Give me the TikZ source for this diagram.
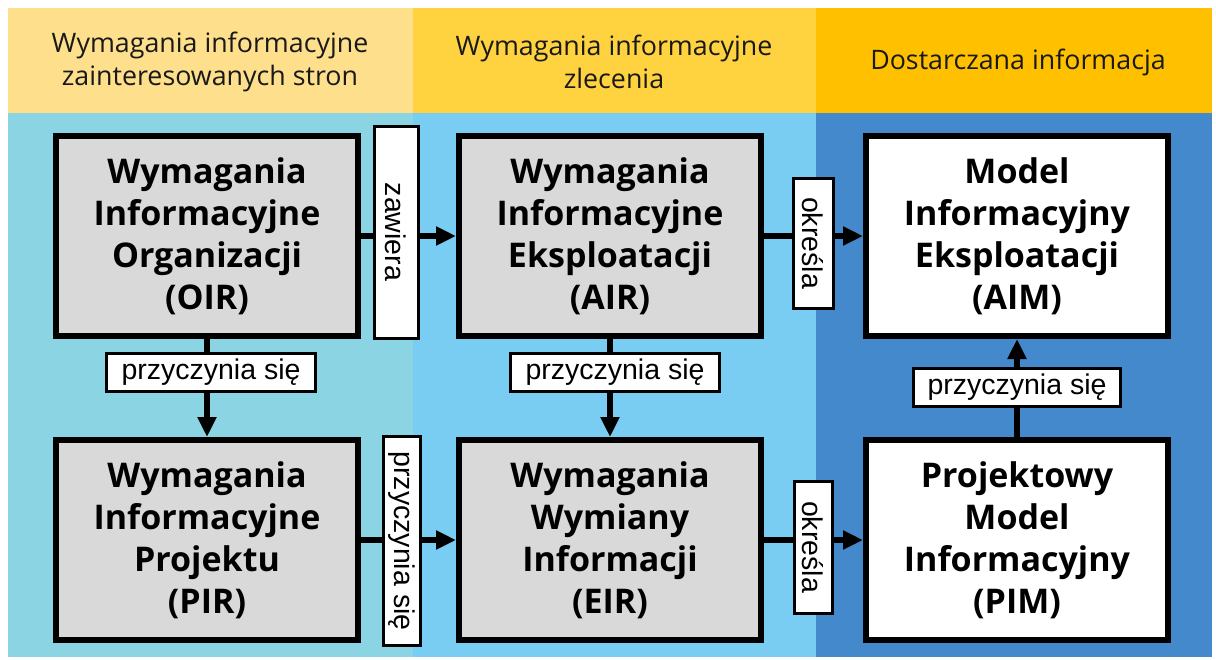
\documentclass[tikz,border=0pt]{standalone}
\usepackage{fontspec}
\setmainfont{Open Sans}
\newfontfamily\labelfont{Liberation Sans}
\usetikzlibrary{arrows.meta}
\definecolor{hdrA}{HTML}{FDDF8C}
\definecolor{hdrB}{HTML}{FFD23F}
\definecolor{hdrC}{HTML}{FFC000}
\definecolor{bodyA}{HTML}{8AD4E4}
\definecolor{bodyB}{HTML}{79CDF2}
\definecolor{bodyC}{HTML}{4489CB}
\definecolor{boxgray}{HTML}{D9D9D9}
\tikzset{
  infobox/.style={draw=black, line width=6pt, fill=boxgray, minimum width=302pt,
    minimum height=200pt, inner sep=0pt, align=center,
    font=\bfseries\fontsize{34}{42}\selectfont},
  deliverbox/.style={infobox, fill=white},
  header/.style={align=center, text=black!90, font=\fontsize{26.8}{33}\selectfont},
  relbox/.style={draw=black, line width=3pt, fill=white, inner sep=0pt, align=center,
    font=\labelfont\fontsize{28.5}{29}\selectfont},
  flow/.style={line width=6pt, -{Triangle[length=20pt,width=18pt]}},
}
\begin{document}
\begin{tikzpicture}[x=1pt,y=-1pt]
\useasboundingbox (0,0) rectangle (1216,659);
\fill[white] (0,0) rectangle (1216,659);
% column bands: headers and bodies
\fill[hdrA] (8,8) rectangle (413,113);
\fill[hdrB] (413,8) rectangle (816,113);
\fill[hdrC] (816,8) rectangle (1212,113);
\fill[bodyA] (8,113) rectangle (413,657);
\fill[bodyB] (413,113) rectangle (816,657);
\fill[bodyC] (816,113) rectangle (1212,657);

\node[header] (h1) at (210,62) {Wymagania informacyjne\\zainteresowanych stron};
\node[header] (h2) at (614,62) {Wymagania informacyjne\\zlecenia};
\node[header] (h3) at (1018,62) {Dostarczana informacja};

% information requirement / model boxes
\node[infobox] (oir) at (207,236) {Wymagania\\Informacyjne\\Organizacji\\(OIR)};
\node[infobox] (air) at (610,236) {Wymagania\\Informacyjne\\Eksploatacji\\(AIR)};
\node[deliverbox] (aim) at (1017,236) {Model\\Informacyjny\\Eksploatacji\\(AIM)};
\node[infobox] (pir) at (207,540) {Wymagania\\Informacyjne\\Projektu\\(PIR)};
\node[infobox] (eir) at (610,540) {Wymagania\\Wymiany\\Informacji\\(EIR)};
\node[deliverbox] (pim) at (1017,540) {Projektowy\\Model\\Informacyjny\\(PIM)};

% relations
\draw[flow] (oir) -- (air);
\draw[flow] (air) -- (aim);
\draw[flow] (pir) -- (eir);
\draw[flow] (eir) -- (pim);
\draw[flow] (oir) -- (pir);
\draw[flow] (air) -- (eir);
\draw[flow] (pim) -- (aim);

% relation labels
\node[relbox, rotate=-90, minimum width=212pt, minimum height=44pt] (l1) at (396,232) {zawiera};
\node[relbox, rotate=-90, minimum width=130pt, minimum height=40pt] (l2) at (813,243) {określa};
\node[relbox, rotate=-90, minimum width=209pt, minimum height=37pt] (l3) at (402,541) {przyczynia się};
\node[relbox, rotate=-90, minimum width=132pt, minimum height=38pt] (l4) at (813,547) {określa};
\node[relbox, minimum width=209pt, minimum height=38pt] (l5) at (211,372) {przyczynia się};
\node[relbox, minimum width=209pt, minimum height=38pt] (l6) at (615,372) {przyczynia się};
\node[relbox, minimum width=207pt, minimum height=38pt] (l7) at (1017,387) {przyczynia się};
\end{tikzpicture}
\end{document}
